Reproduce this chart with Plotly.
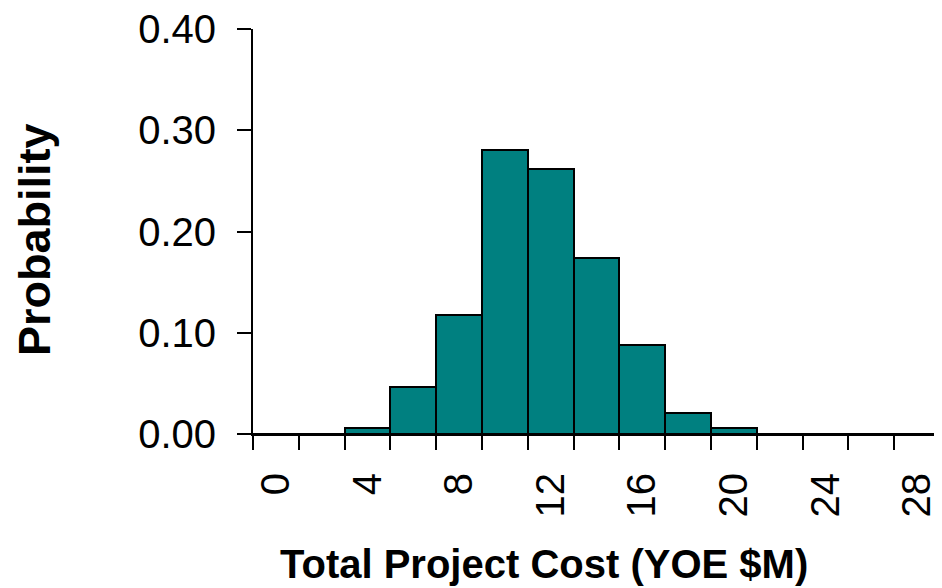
import plotly.graph_objects as go

categories = [0, 2, 4, 6, 8, 10, 12, 14, 16, 18, 20, 22, 24, 26, 28]
probability = [0.0, 0.0, 0.0056, 0.046, 0.118, 0.2805, 0.262, 0.174, 0.088, 0.021, 0.0056, 0.0, 0.0, 0.0, 0.0]
x_tick_labels = ["0", "4", "8", "12", "16", "20", "24", "28"]
x_tick_values = [0, 4, 8, 12, 16, 20, 24, 28]
y_tick_values = [0.0, 0.1, 0.2, 0.3, 0.4]
x_title = "Total Project Cost (YOE $M)"
y_title = "Probability"

FONT = "Liberation Sans, Arial, sans-serif"

# page body has an 8px default margin, so the figure is sized to the visible area
PLOT_L, PLOT_T, PLOT_W, PLOT_H = 245, 21, 687, 405

fig = go.Figure()
fig.add_trace(go.Bar(
    x=categories,
    y=probability,
    width=2,
    marker=dict(color="#008080", line=dict(color="black", width=2)),
))

fig.update_layout(
    width=934,
    height=580,
    margin=dict(l=PLOT_L, r=934 - PLOT_L - PLOT_W, t=PLOT_T, b=580 - PLOT_T - PLOT_H,
                autoexpand=False),
    paper_bgcolor="white",
    plot_bgcolor="white",
    showlegend=False,
    font=dict(family=FONT, color="black"),
    bargap=0,
)

fig.update_xaxes(
    range=[-1, 29],
    automargin=False,
    tickmode="array",
    tickvals=x_tick_values,
    ticktext=x_tick_labels,
    tickangle=-90,
    ticks="",
    tickfont=dict(size=40, family=FONT, color="black"),
    ticklabelstandoff=21,
    ticklabeloverflow="allow",
    showline=True,
    linecolor="black",
    linewidth=2,
    showgrid=False,
    zeroline=False,
    minor=dict(tick0=-1, dtick=2, ticks="outside", ticklen=14, tickwidth=2,
               tickcolor="black", showgrid=False),
)

fig.update_yaxes(
    range=[0, 0.40],
    automargin=False,
    tickmode="array",
    tickvals=y_tick_values,
    tickformat=".2f",
    ticks="outside",
    ticklen=14,
    tickwidth=2,
    tickcolor="black",
    tickfont=dict(size=40, family=FONT, color="black"),
    ticklabelstandoff=13,
    ticklabeloverflow="allow",
    showline=True,
    linecolor="black",
    linewidth=2,
    showgrid=False,
    zeroline=False,
)

# Axis titles placed as annotations to match the reference positions
fig.add_annotation(
    text="<b>" + x_title + "</b>", xref="paper", yref="paper",
    x=(544 - 253) / PLOT_W, y=-106 / PLOT_H,
    xanchor="center", yanchor="top", showarrow=False,
    font=dict(size=40, family=FONT, color="black"),
)
fig.add_annotation(
    text="<b>" + y_title + "</b>", xref="paper", yref="paper",
    x=(34 - 253) / PLOT_W, y=(434 - 239) / PLOT_H, textangle=-90,
    xanchor="center", yanchor="middle", showarrow=False,
    font=dict(size=45, family=FONT, color="black"),
)

fig.write_html("out.html")
